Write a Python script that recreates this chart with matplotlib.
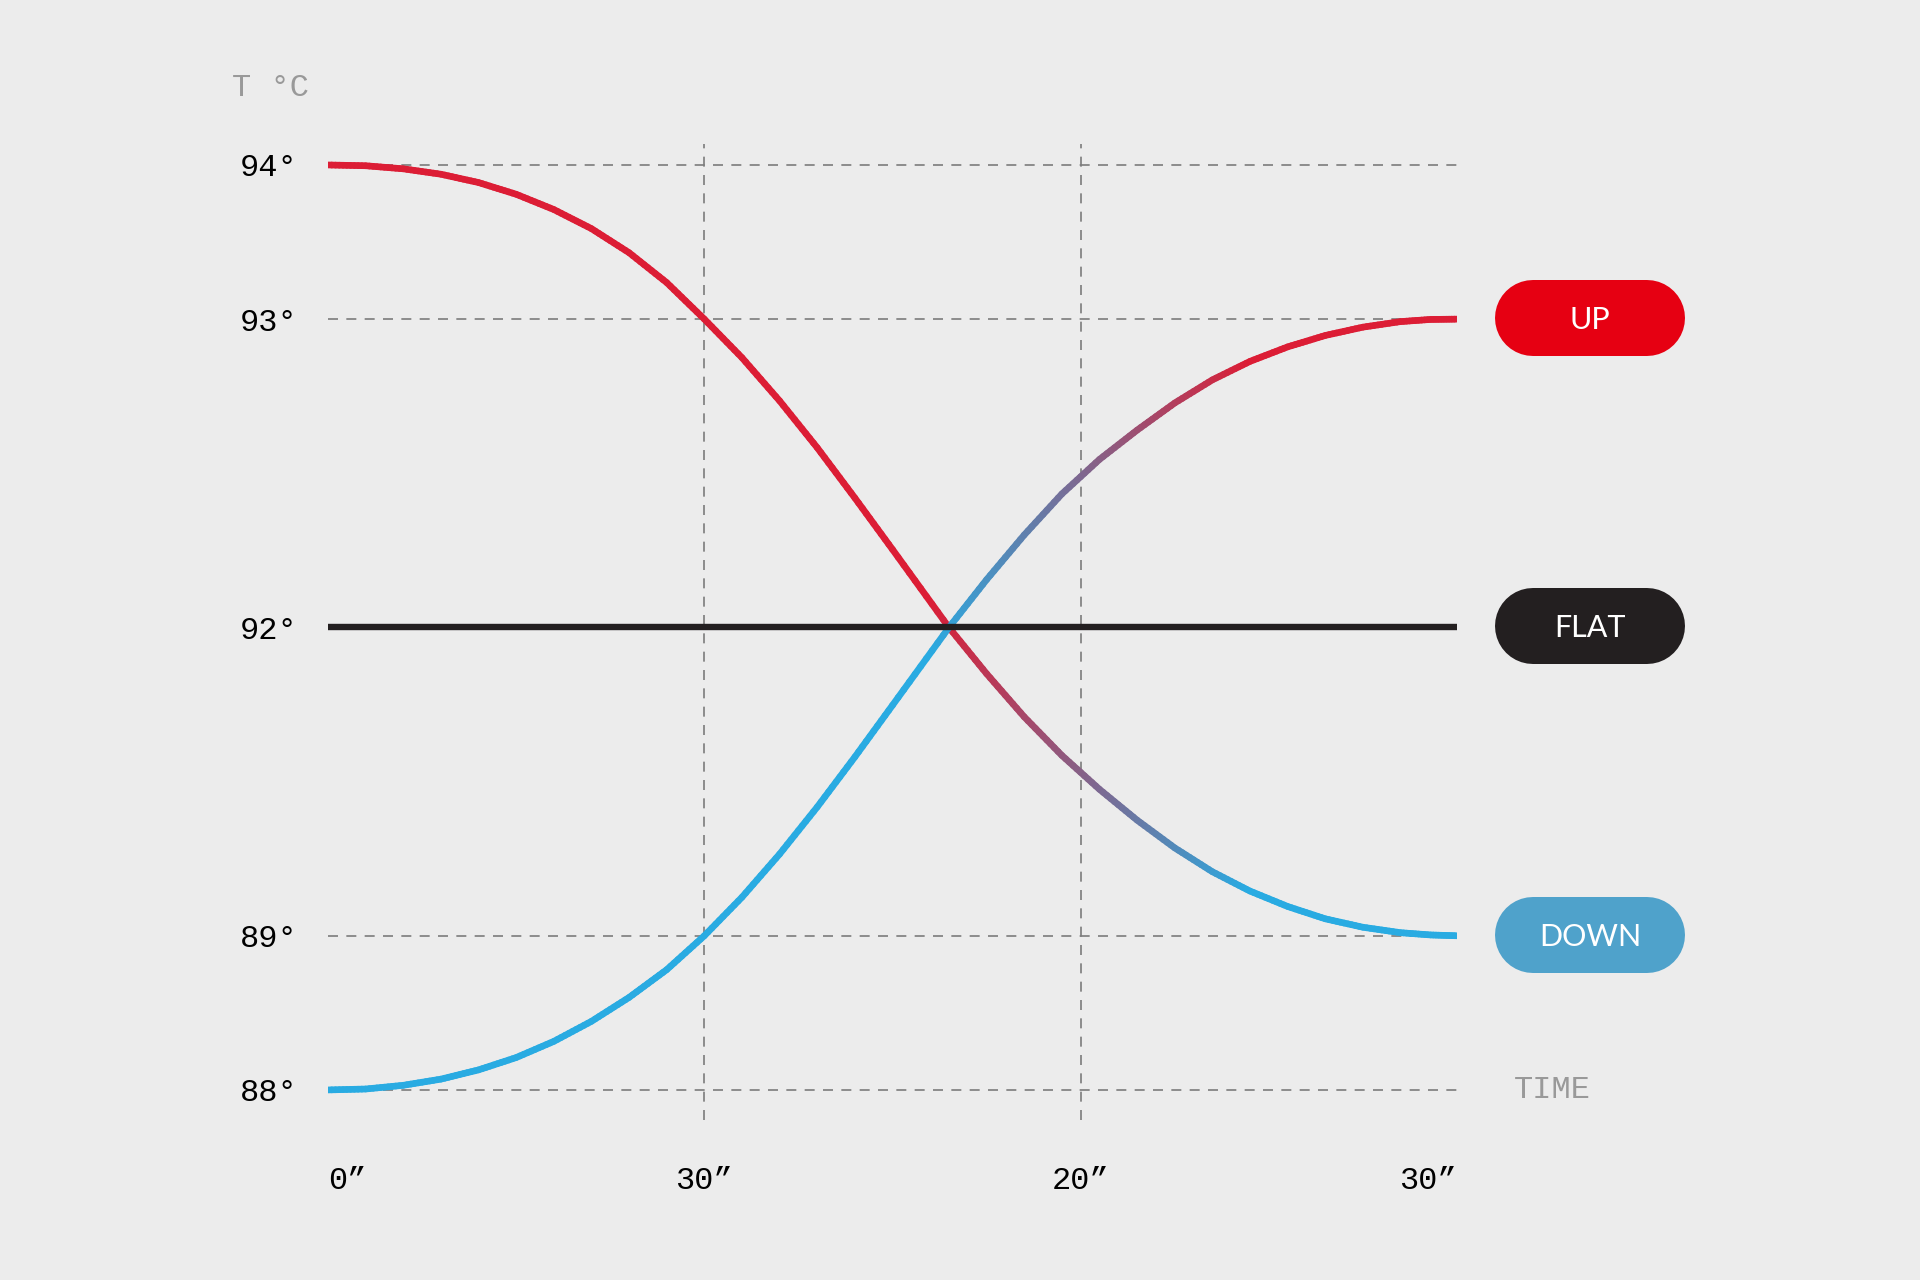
import numpy as np
import matplotlib
matplotlib.use("Agg")
import matplotlib.pyplot as plt
from matplotlib.collections import LineCollection
from matplotlib.colors import to_rgb

# x in grid units (0..3)
t = [0, 0.1, 0.2, 0.3, 0.4, 0.5, 0.6, 0.7, 0.8, 0.9, 1.0,
     1.1, 1.2, 1.3, 1.4, 1.5, 1.65,
     1.75, 1.85, 1.95, 2.05, 2.15, 2.25, 2.35, 2.45, 2.55, 2.65,
     2.75, 2.85, 2.93, 3.0]
down_temp = [94.0, 93.995, 93.975, 93.94, 93.886, 93.81, 93.711, 93.587,
             93.431, 93.237, 93.0,
             92.875, 92.735, 92.583, 92.42, 92.253, 92.0,
             91.55, 91.13, 90.755, 90.425, 90.125, 89.855, 89.623, 89.435,
             89.285, 89.165, 89.083, 89.03, 89.008, 89.0]
up_temp = [88.0, 88.006, 88.03, 88.07, 88.13, 88.21, 88.315, 88.445, 88.60,
           88.78, 89.0,
           89.375, 89.795, 90.253, 90.74, 91.243, 92.0,
           92.155, 92.30, 92.433, 92.545, 92.64, 92.728, 92.803, 92.863,
           92.91, 92.947, 92.974, 92.992, 92.999, 93.0]
flat_t = [0, 3]
flat_temp = [92.0, 92.0]

y_ticks = [88, 89, 92, 93, 94]
y_labels = ["88°", "89°", "92°", "93°", "94°"]
x_ticks = [0, 1, 2, 3]
x_labels = ["0”", "30”", "20”", "30”"]
grid_temps = [88, 89, 93, 94]
grid_times = [1, 2]

pill_labels = ["UP", "FLAT", "DOWN"]
pill_temps = [93.0, 92.0, 89.0]

BG = "#ececec"
RED = "#dc1d35"
BLUE = "#29abe2"
DARK = "#231f20"
PILL_COLORS = ["#e60012", "#231f20", "#4fa2cb"]
GRAY = "#999999"
GRID = "#7c7c7c"

# uneven temperature axis: band positions
band_temps = [87, 88, 89, 92, 93, 94, 95]
band_pos = [-1, 0, 1, 3, 5, 6, 7]


def fwd(v):
    return np.interp(v, band_temps, band_pos)


def inv(p):
    return np.interp(p, band_pos, band_temps)


def mix(c1, c2, f):
    a, b = np.array(to_rgb(c1)), np.array(to_rgb(c2))
    return tuple(a + (b - a) * f)


def gradient_line(ax, xs, ys, c_start, c_end, t0, t1, lw):
    # split each straight piece so the colour fades smoothly
    segs, cols = [], []
    for i in range(len(xs) - 1):
        n = 10
        for k in range(n):
            a, b = k / n, (k + 1) / n
            xa = xs[i] + (xs[i + 1] - xs[i]) * a
            xb = xs[i] + (xs[i + 1] - xs[i]) * b
            ya = ys[i] + (ys[i + 1] - ys[i]) * a
            yb = ys[i] + (ys[i + 1] - ys[i]) * b
            segs.append([(xa, ya), (xb, yb)])
            xm = (xa + xb) / 2
            f = min(1, max(0, (xm - t0) / (t1 - t0)))
            cols.append(mix(c_start, c_end, f))
    lc = LineCollection(segs, colors=cols, linewidths=lw, capstyle="round",
                        joinstyle="round", zorder=2)
    ax.add_collection(lc)


plt.rcParams["font.family"] = ["Liberation Mono", "DejaVu Sans Mono"]

fig = plt.figure(figsize=(19.2, 12.8), dpi=100, facecolor=BG)
ax = fig.add_axes([328 / 1920, 160 / 1280, 1129 / 1920, 976 / 1280])
ax.set_facecolor(BG)
ax.set_yscale("function", functions=(fwd, inv))
ax.set_xlim(0, 3)
ax.set_ylim(87.805, 94.136)

for g in grid_temps:
    ax.axhline(g, color=GRID, lw=1.2, ls=(0, (6, 5)), zorder=0)
for g in grid_times:
    ax.axvline(g, color=GRID, lw=1.2, ls=(0, (6, 5)), zorder=0)

gradient_line(ax, t, down_temp, RED, BLUE, 1.6, 2.45, 4.8)
gradient_line(ax, t, up_temp, BLUE, RED, 1.6, 2.45, 4.8)
ax.plot(flat_t, flat_temp, color=DARK, lw=4.6, solid_capstyle="butt", zorder=3)

for s in ax.spines.values():
    s.set_visible(False)
ax.set_yticks(y_ticks)
ax.set_yticklabels(y_labels)
ax.set_xticks(x_ticks)
ax.set_xticklabels(x_labels)
ax.tick_params(axis="y", length=0, labelsize=23, pad=22, labelcolor="black")
ax.tick_params(axis="x", length=0, labelsize=23, pad=33, labelcolor="black")
xl = ax.get_xticklabels()
xl[0].set_ha("left")
xl[-1].set_ha("right")

ax.text(-0.255, 94.5, "T °C", fontsize=23, color=GRAY, ha="left", va="center")
ax.text(3.15, 88.0, "TIME", fontsize=23, color=GRAY, ha="left", va="center")

# overlay in pixel units for the pills
ov = fig.add_axes([0, 0, 1, 1])
ov.set_xlim(0, 1920)
ov.set_ylim(0, 1280)
ov.axis("off")
ov.patch.set_alpha(0)
w, h = 190, 76
cx = 1590
for lab, temp, col in zip(pill_labels, pill_temps, PILL_COLORS):
    cy = ax.transData.transform((3, temp))[1] + 1
    # stadium shape: a thick line with round caps (h px wide)
    ov.plot([cx - (w - h) / 2, cx + (w - h) / 2], [cy, cy], color=col,
            lw=h * 72 / 100, solid_capstyle="round")
    ov.text(cx, cy - 11, lab, fontsize=22, color="white", ha="center",
            va="baseline", family=["Lato", "DejaVu Sans"])

fig.savefig("out.png", dpi=100, facecolor=BG)
